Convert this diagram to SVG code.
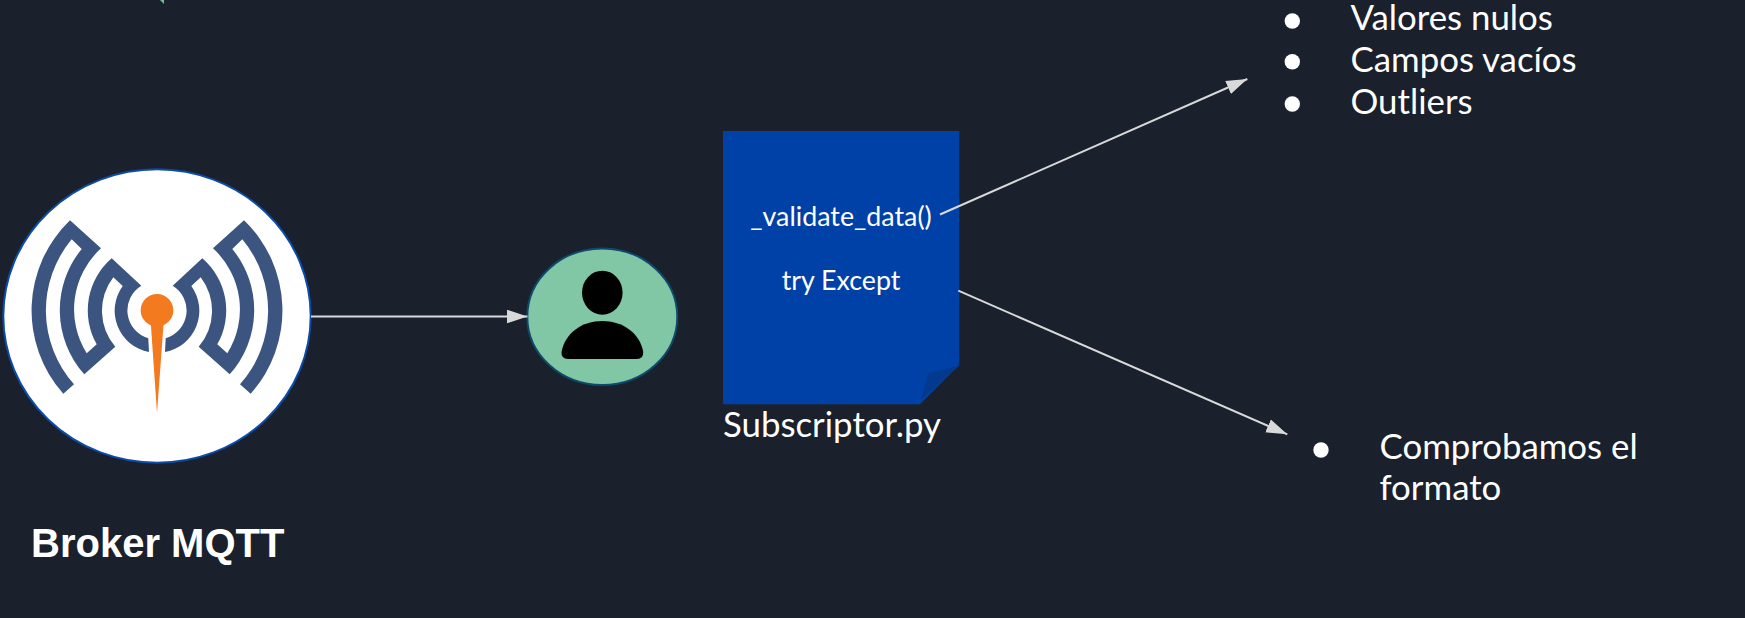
<svg xmlns="http://www.w3.org/2000/svg" width="1745" height="618" viewBox="0 0 1745 618">
<style>
.t{font-family:Lato,"Open Sans","Liberation Sans",sans-serif;fill:#fff}
.m{font-size:26.8px;text-anchor:middle}
.l{font-size:34.8px}
.c{stroke:#d9d9d9;stroke-width:2;fill:none;marker-end:url(#a)}
</style>
<defs>
<marker id="a" markerUnits="userSpaceOnUse" markerWidth="22" markerHeight="16" refX="21" refY="7.5" orient="auto"><path d="M0 0.5L21 7.5L0 14.5Z" fill="#d9d9d9"/></marker>
<path id="w" fill="#3b5480" d="M63.3 393.7A125 125 0 0 1 70 220.3L101 248.3A82.7 82.7 0 0 0 86.7 353.3L96.7 344.3A68.7 68.7 0 0 1 111.7 258.3L141.3 285.7A29 29 0 0 0 148.3 338.3L149 352A42 42 0 0 1 122.7 286L113.3 277.3A55 55 0 0 0 115.3 346.7L84.3 374.3A96.3 96.3 0 0 1 81.7 249L71.7 239.3A111 111 0 0 0 74 384.3Z"/>
</defs>
<rect width="1745" height="618" fill="#1a202c"/>
<polygon points="160,0 164,0 164,4" fill="#6fbf97"/>
<g id="broker">
<ellipse cx="157" cy="316" rx="153.7" ry="146.7" fill="#fff" stroke="#0b4ca8" stroke-width="2"/>
<use href="#w"/>
<use href="#w" transform="translate(314 0) scale(-1 1)"/>
<circle cx="157" cy="310.3" r="16.3" fill="#f47a20"/>
<polygon points="150.7,322 163.7,322 157,413" fill="#f47a20"/>
<text x="31" y="557" font-family="'Liberation Sans',Arial,sans-serif" font-weight="700" font-size="40" fill="#fff">Broker MQTT</text>
</g>
<g id="subscriber">
<ellipse cx="602.3" cy="316.7" rx="75" ry="68.3" fill="#82c7a5" stroke="#0e4a6b" stroke-width="2"/>
<ellipse cx="602.3" cy="292.7" rx="20.3" ry="22"/>
<path d="M561.5 352C565 333 582 321 602.3 321S640 333 643.2 352Q643.5 359 637 359H568Q561 359 561.5 352Z"/>
</g>
<g id="document">
<path d="M723 131H959.3V365L920 404.3H723Z" fill="#0041a8"/>
<path d="M959.3 365.7L928.3 373.3L921 400Z" fill="#03398f"/>
<text class="t m" x="841" y="226">_validate_data()</text>
<text class="t m" x="841" y="289.5">try Except</text>
<text class="t l" x="723" y="437">Subscriptor.py</text>
</g>
<g id="list-top">
<circle cx="1292.3" cy="21" r="7.7" fill="#fff"/>
<circle cx="1292.3" cy="61.7" r="7.7" fill="#fff"/>
<circle cx="1292.3" cy="104" r="7.7" fill="#fff"/>
<text class="t l" x="1350.5" y="30">Valores nulos</text>
<text class="t l" x="1350.5" y="71.5">Campos vacíos</text>
<text class="t l" x="1350.5" y="113.5">Outliers</text>
</g>
<g id="list-bottom">
<circle cx="1321" cy="450" r="7.7" fill="#fff"/>
<text class="t l" x="1379.5" y="458.5">Comprobamos el</text>
<text class="t l" x="1379.5" y="500">formato</text>
</g>
<g id="connectors">
<path class="c" d="M940 214.5L1247.3 79"/>
<path class="c" d="M958.3 290.7L1287.3 434.3"/>
<path class="c" d="M311 316.5H527.5"/>
</g>
</svg>
